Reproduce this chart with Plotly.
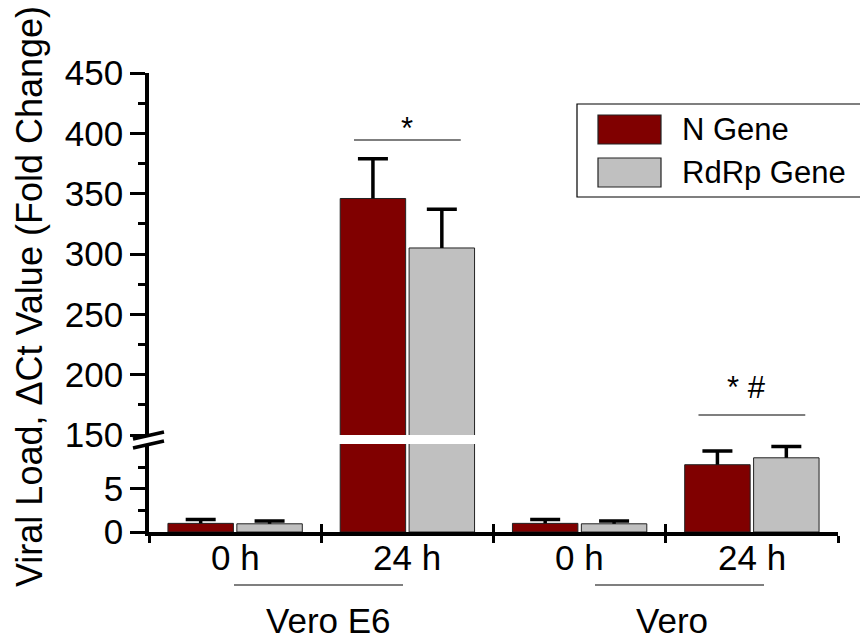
import plotly.graph_objects as go

# ---------------- data ----------------
groups = ["Vero E6 0 h", "Vero E6 24 h", "Vero 0 h", "Vero 24 h"]
time_labels = ["0 h", "24 h", "0 h", "24 h"]
cell_lines = ["Vero E6", "Vero"]
series_names = ["N Gene", "RdRp Gene"]
n_gene = [1.0, 346, 1.0, 7.8]
n_gene_err = [0.45, 33, 0.45, 1.6]
rdrp_gene = [0.95, 305, 0.95, 8.6]
rdrp_gene_err = [0.32, 32, 0.32, 1.3]
colors = ["#800000", "#C0C0C0"]
upper_ticks = [150, 200, 250, 300, 350, 400, 450]
upper_minor = [175, 225, 275, 325, 375, 425]
lower_ticks = [0, 5]
lower_minor = [2.5, 7.5]
sig_labels = ["*", "* #"]          # over the 24 h groups
sig_groups = [1, 3]

# ---------------- geometry / decoration ----------------
W, H = 860, 639
L, R, T, B = 149, 22, 73, 107
PW, PH = W - L - R, H - T - B
FONT = "Arial, Liberation Sans, sans-serif"


def px2x(px):
    return (px - L) / PW


def px2y(py):
    return (H - B - py) / PH


low_dom = [0, px2y(444)]
up_dom = [px2y(435), 1]

fig = go.Figure()
xs = list(range(len(groups)))
# Real bars carry the error-bar stem (no caps). Transparent bars on an
# overlaying subplot, as tall as mean+error, carry a zero-length error bar
# that draws only the top cap -> upper whisker only, as in the reference.
for ax in ["y", "y2"]:
    for name, vals, errs, col in zip(series_names, [n_gene, rdrp_gene],
                                     [n_gene_err, rdrp_gene_err], colors):
        fig.add_trace(go.Bar(
            x=xs, y=vals, name=name, yaxis=ax, xaxis="x", offsetgroup=name,
            marker=dict(color=col, line=dict(color="#222222", width=1)),
            error_y=dict(type="data", symmetric=False, array=errs,
                         arrayminus=[0] * len(errs), color="black",
                         thickness=3.5, width=0),
            showlegend=False,
        ))
    for name, vals, errs in zip(series_names, [n_gene, rdrp_gene],
                                [n_gene_err, rdrp_gene_err]):
        tops = [v + e for v, e in zip(vals, errs)]
        fig.add_trace(go.Bar(
            x=xs, y=tops, name=name + " cap", yaxis=ax, xaxis="x3",
            offsetgroup=name,
            marker=dict(color="rgba(0,0,0,0)", line=dict(width=0)),
            error_y=dict(type="data", array=[0] * len(errs), color="black",
                         thickness=3.5, width=15),
            showlegend=False, hoverinfo="skip",
        ))

axis_common = dict(showline=True, linecolor="black", linewidth=3.5,
                   ticks="outside", ticklen=15, tickwidth=3, tickcolor="black",
                   showgrid=False, zeroline=False,
                   tickfont=dict(family=FONT, size=35, color="black"))

fig.update_layout(
    width=W, height=H, margin=dict(l=L, r=R, t=T, b=B),
    paper_bgcolor="white", plot_bgcolor="white",
    barmode="group", bargap=0.2, bargroupgap=0.05,
    font=dict(family=FONT, color="black"),
    xaxis=dict(range=[-0.5, 3.5], anchor="y", showline=True, linecolor="black",
               linewidth=3.5, tickvals=[-0.5, 0.5, 1.5, 2.5, 3.5],
               ticks="outside", ticklen=7, tickwidth=3, tickcolor="black",
               showticklabels=False, showgrid=False, zeroline=False),
    xaxis3=dict(range=[-0.5, 3.5], overlaying="x", anchor="y", showline=False,
                tickvals=[-0.5, 0.5, 1.5, 2.5, 3.5], ticks="inside", ticklen=8,
                tickwidth=3, tickcolor="black", showticklabels=False,
                showgrid=False, zeroline=False),
    yaxis=dict(domain=low_dom, range=[0, 10.2], tickvals=lower_ticks,
               minor=dict(tickvals=lower_minor, ticklen=7, tickwidth=3,
                          ticks="outside", tickcolor="black"),
               anchor="x", **axis_common),
    yaxis2=dict(domain=up_dom, range=[150, 450], tickvals=upper_ticks,
                minor=dict(tickvals=upper_minor, ticklen=7, tickwidth=3,
                           ticks="outside", tickcolor="black"),
                anchor="x", **axis_common),
)

ann = []
shapes = []
# x tick labels
for i, lab in enumerate(time_labels):
    ann.append(dict(x=i, y=px2y(557), xref="x", yref="paper", text=lab,
                    showarrow=False, font=dict(size=35, family=FONT),
                    xanchor="center", yanchor="middle"))
# cell line labels with underline
underline_px = [(234, 403), (595, 764)]
label_px = [328, 672]
for cl, (a, b), lx in zip(cell_lines, underline_px, label_px):
    shapes.append(dict(type="line", xref="paper", yref="paper",
                       x0=px2x(a), x1=px2x(b), y0=px2y(585), y1=px2y(585),
                       line=dict(color="black", width=1.2)))
    ann.append(dict(x=px2x(lx), y=px2y(620), xref="paper", yref="paper",
                    text=cl, showarrow=False, font=dict(size=35, family=FONT),
                    xanchor="center", yanchor="middle"))
# significance markers (line y in px, text box bottom in px, text x shift)
sig_line_px = [140, 415]
sig_text_bottom_px = [148, 407]
sig_dx = [0.0, -0.03]
for lab, g, ly, tb, dx in zip(sig_labels, sig_groups, sig_line_px,
                              sig_text_bottom_px, sig_dx):
    shapes.append(dict(type="line", xref="x", yref="paper", x0=g - 0.31,
                       x1=g + 0.31, y0=px2y(ly), y1=px2y(ly),
                       line=dict(color="black", width=1.2)))
    ann.append(dict(x=g + dx, y=px2y(tb), xref="x", yref="paper", text=lab,
                    showarrow=False, font=dict(size=31, family=FONT),
                    xanchor="center", yanchor="bottom"))
# y axis title
ann.append(dict(x=px2x(29), y=px2y(297), xref="paper", yref="paper",
                text="Viral Load, ΔCt Value (Fold Change)", textangle=-90,
                showarrow=False, font=dict(size=36, family=FONT),
                xanchor="center", yanchor="middle"))
# axis break marks
for (y0, y1) in [(439, 432), (448, 441)]:
    shapes.append(dict(type="line", xref="paper", yref="paper",
                       x0=px2x(133), x1=px2x(164), y0=px2y(y0), y1=px2y(y1),
                       line=dict(color="black", width=3.5)))
# legend (manual; box is open on the right, running past the page edge)
lg_l, lg_r, lg_t, lg_b = 577, 900, 104, 197
shapes.append(dict(type="rect", xref="paper", yref="paper",
                   x0=px2x(lg_l), x1=px2x(lg_r), y0=px2y(lg_t), y1=px2y(lg_b),
                   line=dict(width=0), fillcolor="white", layer="below"))
shapes.append(dict(type="path", xref="paper", yref="paper",
                   path="M {:.5f} {:.5f} L {:.5f} {:.5f} L {:.5f} {:.5f} L {:.5f} {:.5f}".format(
                       px2x(lg_r), px2y(lg_t), px2x(lg_l), px2y(lg_t),
                       px2x(lg_l), px2y(lg_b), px2x(lg_r), px2y(lg_b)),
                   line=dict(color="black", width=1.2)))
for j, (name, col) in enumerate(zip(series_names, colors)):
    ytop = 115 + 43 * j
    shapes.append(dict(type="rect", xref="paper", yref="paper",
                       x0=px2x(598), x1=px2x(661), y0=px2y(ytop),
                       y1=px2y(ytop + 29), fillcolor=col,
                       line=dict(color="#222222", width=1.2)))
    ann.append(dict(x=px2x(680), y=px2y(ytop + 14.5), xref="paper",
                    yref="paper", text=name, showarrow=False,
                    font=dict(size=31, family=FONT), xanchor="left",
                    yanchor="middle"))

fig.update_layout(annotations=ann, shapes=shapes)
fig.write_html("out.html", config={"displayModeBar": False},
               post_script="document.body.style.margin='0px';"
                           "document.body.style.overflow='hidden';")
